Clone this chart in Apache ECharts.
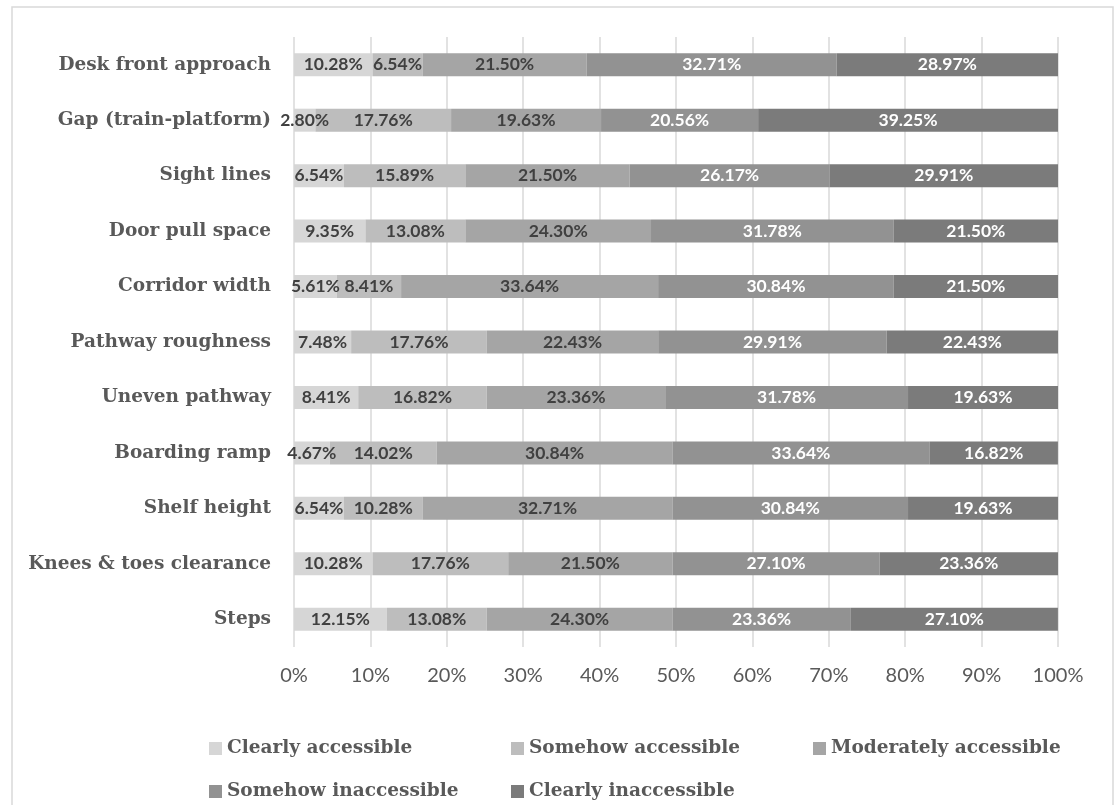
<!DOCTYPE html>
<html>
<head>
<meta charset="utf-8">
<title>Accessibility</title>
<script src="https://cdn.jsdelivr.net/npm/echarts@6/dist/echarts.min.js"></script>
<style>
  html, body { margin: 0; padding: 0; background: #fff; }
  #main { width: 1120px; height: 805px; }
</style>
</head>
<body>
<div id="main"></div>
<script>
// categories, bottom to top (as echarts draws them)
var categories = ['Steps', 'Knees & toes clearance', 'Shelf height', 'Boarding ramp', 'Uneven pathway',
  'Pathway roughness', 'Corridor width', 'Door pull space', 'Sight lines', 'Gap (train-platform)', 'Desk front approach'];

var seriesNames = ['Clearly accessible', 'Somehow accessible', 'Moderately accessible',
  'Somehow inaccessible', 'Clearly inaccessible'];

var clearlyAccessible   = [12.15, 10.28, 6.54, 4.67, 8.41, 7.48, 5.61, 9.35, 6.54, 2.80, 10.28];
var somehowAccessible   = [13.08, 17.76, 10.28, 14.02, 16.82, 17.76, 8.41, 13.08, 15.89, 17.76, 6.54];
var moderatelyAccessible = [24.30, 21.50, 32.71, 30.84, 23.36, 22.43, 33.64, 24.30, 21.50, 19.63, 21.50];
var somehowInaccessible = [23.36, 27.10, 30.84, 33.64, 31.78, 29.91, 30.84, 31.78, 26.17, 20.56, 32.71];
var clearlyInaccessible = [27.10, 23.36, 19.63, 16.82, 19.63, 22.43, 21.50, 21.50, 29.91, 39.25, 28.97];

var xTicks = [0, 10, 20, 30, 40, 50, 60, 70, 80, 90, 100];

var colors = ['#d6d6d6', '#bdbdbd', '#a5a5a5', '#929292', '#7b7b7b'];
var labelColors = ['#404040', '#404040', '#404040', '#ffffff', '#ffffff'];
var allData = [clearlyAccessible, somehowAccessible, moderatelyAccessible, somehowInaccessible, clearlyInaccessible];

var myChart = echarts.init(document.getElementById('main'));

var series = [];
for (var i = 0; i < seriesNames.length; i++) {
  series.push({
    name: seriesNames[i],
    type: 'bar',
    stack: 'total',
    barWidth: 23,
    data: allData[i],
    itemStyle: { color: colors[i] },
    label: {
      show: true,
      position: 'inside',
      formatter: function (p) { return p.value.toFixed(2) + '%'; },
      color: labelColors[i],
      fontFamily: 'Lato',
      fontWeight: 'bold',
      fontSize: 17.5
    }
  });
}

var option = {
  animation: false,
  color: colors,
  graphic: [{
    type: 'rect',
    shape: { x: 12, y: 7, width: 1101, height: 820 },
    style: { fill: 'none', stroke: '#d9d9d9', lineWidth: 1.5 },
    silent: true
  }],
  grid: { left: 294, right: 62, top: 37, bottom: 158 },
  legend: {
    data: seriesNames,
    left: 209,
    top: 727,
    width: 920,
    padding: 0,
    itemGap: 0,
    itemWidth: 13,
    itemHeight: 13,
    icon: 'rect',
    textStyle: {
      fontFamily: 'DejaVu Serif',
      fontWeight: 'bold',
      fontSize: 18.5,
      color: '#595959',
      width: 284,
      height: 43,
      lineHeight: 43
    }
  },
  xAxis: {
    type: 'value',
    min: 0,
    max: 100,
    interval: 10,
    axisLine: { show: false },
    axisTick: { show: false },
    splitLine: { lineStyle: { color: '#d9d9d9', width: 1.5 } },
    axisLabel: {
      formatter: function (v) { return xTicks.indexOf(v) >= 0 ? v + '%' : ''; },
      margin: 19,
      fontFamily: 'Lato',
      fontSize: 20,
      color: '#595959'
    }
  },
  yAxis: {
    type: 'category',
    data: categories,
    axisLine: { show: false },
    axisTick: { show: false },
    axisLabel: {
      margin: 23,
      fontFamily: 'DejaVu Serif',
      fontWeight: 'bold',
      fontSize: 18.5,
      color: '#595959'
    }
  },
  series: series
};

myChart.setOption(option);
</script>
</body>
</html>
